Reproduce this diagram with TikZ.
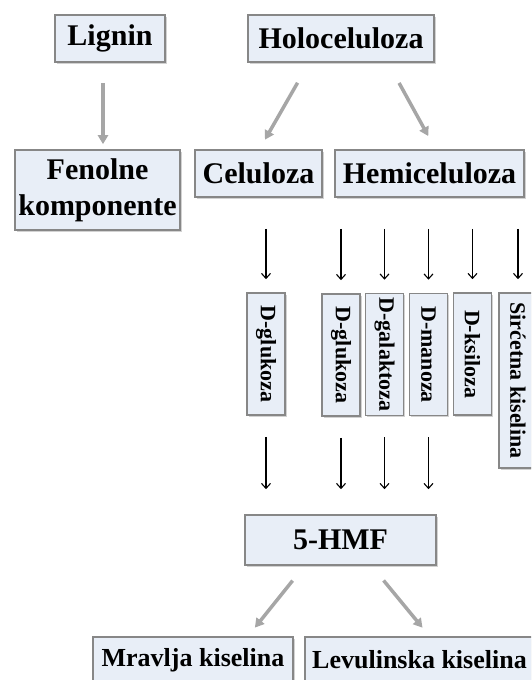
\documentclass[tikz,border=0pt]{standalone}
\usepackage{fontspec}
\setmainfont{Liberation Serif}
\usepackage{graphicx}
\usepackage{xcolor}
\usepackage{tikz}
\usetikzlibrary{shapes,arrows,arrows.meta,positioning,shadows}
\definecolor{boxfill}{RGB}{232,238,247}
\definecolor{boxedge}{RGB}{135,135,135}
\definecolor{flowgray}{RGB}{166,166,166}

\begin{document}
\begin{tikzpicture}[
    x=1pt, y=-1pt,
    box/.style={rectangle, draw=boxedge, line width=1.6pt, fill=boxfill, drop shadow={shadow xshift=1.5pt, shadow yshift=-1.5pt, fill=gray!70}, inner sep=0pt, align=center, font=\bfseries\fontsize{30}{36}\selectfont},
    sbox/.style={box, font=\bfseries\fontsize{26}{30}\selectfont},
    vbox/.style={box, minimum width=38pt, minimum height=122pt, font=\bfseries\fontsize{22}{24}\selectfont},
    main/.style={-{Triangle[length=9pt,width=10pt]}, flowgray, line width=3.5pt},
    sub/.style={-{Straight Barb[length=5pt,width=9pt]}, line width=1.1pt}
]
\useasboundingbox (0,0) rectangle (531,680);
\clip (0,0) rectangle (531,680);

% Raw material
\node[box, minimum width=110pt, minimum height=47pt] (lignin) at (110,38.5) {Lignin};
\node[box, minimum width=186pt, minimum height=47pt] (holo) at (341,38.5) {Holoceluloza};

% Fractions
\node[box, minimum width=165pt, minimum height=80pt] (fenol) at (97.5,190) {Fenolne\\komponente};
\node[box, minimum width=127pt, minimum height=47pt] (cel) at (258.5,173.5) {Celuloza};
\node[box, minimum width=189pt, minimum height=47pt] (hemi) at (429.5,173.5) {Hemiceluloza};

% Sugars and acid
\node[vbox] (glcA) at (266,354) {\rotatebox{-90}{D-glukoza}};
\node[vbox] (glcB) at (341,355) {\rotatebox{-90}{D-glukoza}};
\node[vbox] (gal) at (384.5,354.5) {\rotatebox{-90}{D-galaktoza}};
\node[vbox] (man) at (428.5,354.5) {\rotatebox{-90}{D-manoza}};
\node[vbox] (xyl) at (472.5,354) {\rotatebox{-90}{D-ksiloza}};
\node[vbox, minimum height=175pt] (acet) at (518,380.5) {\rotatebox{-90}{Sirćetna kiselina}};

% Products
\node[box, minimum width=191pt, minimum height=50pt] (hmf) at (340.5,540) {5-HMF};
\node[sbox, minimum width=200pt, minimum height=46pt] (formic) at (193,660) {Mravlja kiselina};
\node[sbox, minimum width=229pt, minimum height=46pt] (levul) at (419.5,660) {Levulinska kiselina};

% Gray arrows
\draw[main, shorten <=20pt, shorten >=5pt] ([xshift=-7pt]lignin.south) -- ([xshift=-7pt]lignin.south |- fenol.north);
\draw[main, shorten <=23pt, shorten >=11pt] ([xshift=-32pt]holo.south) -- ([xshift=1pt]cel.north);
\draw[main, shorten <=23pt, shorten >=15pt] ([xshift=47pt]holo.south) -- ([xshift=6pt]hemi.north);
\draw[main, shorten <=19pt, shorten >=11pt] ([xshift=-36pt]hmf.south) -- ([xshift=55pt]formic.north);
\draw[main, shorten <=19pt, shorten >=11pt] ([xshift=31pt]hmf.south) -- ([xshift=10pt]levul.north);

% Black arrows
\draw[sub, shorten <=31pt, shorten >=13pt] (glcA.north |- cel.south) -- (glcA.north);
\foreach \n in {glcB,gal,man,xyl,acet}
    \draw[sub, shorten <=31pt, shorten >=13pt] (\n.north |- hemi.south) -- (\n.north);
\foreach \n in {glcA,glcB,gal,man}
    \draw[sub, shorten <=21pt, shorten >=25pt] (\n.south) -- (\n.south |- hmf.north);

\end{tikzpicture}
\end{document}
